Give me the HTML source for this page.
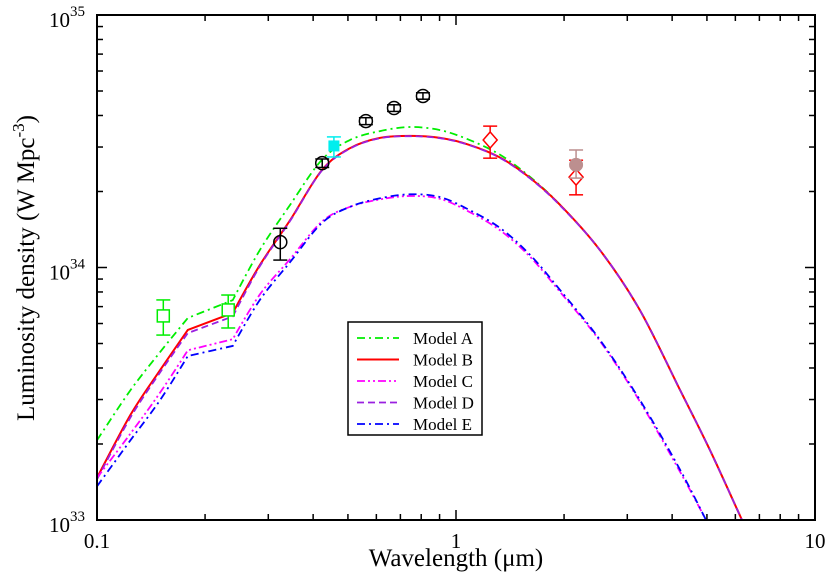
<!DOCTYPE html>
<html><head><meta charset="utf-8"><style>
html,body{margin:0;padding:0;background:#fff;}
svg{display:block;font-family:"Liberation Serif",serif;}
</style></head><body>
<svg id="chart" width="830" height="579" viewBox="0 0 830 579" xmlns="http://www.w3.org/2000/svg">
<g id="curves"></g>
<g id="points"></g>
<rect x="97" y="15" width="718" height="505" fill="none" stroke="#000" stroke-width="2"/>
<g id="ticks"></g>
<g id="labels" font-size="21" fill="#000"></g>
<text x="456" y="566" font-size="25" text-anchor="middle">Wavelength (μm)</text>
<text transform="translate(34,268) rotate(-90)" font-size="25" text-anchor="middle">Luminosity density (W Mpc<tspan dy="-10" font-size="17">-3</tspan><tspan dy="10">)</tspan></text>
<g>
<rect x="348" y="322" width="134" height="113" fill="#fff" stroke="#000" stroke-width="1.5"/>
<g id="legend-items" font-size="17"></g>
</g>
</svg>
<script>
const X0=97,X1=815,Y0=520,Y1=15;
function xs(l){return X0+(X1-X0)/2*Math.log10(l/0.1);}
function ys(v){return Y0-(Y0-Y1)/2*(Math.log10(v)-33);}
const NS="http://www.w3.org/2000/svg";
function mk(t,a,p){const e=document.createElementNS(NS,t);for(const k in a)e.setAttribute(k,a[k]);p.appendChild(e);return e;}

// wavelengths (micron)
const lamAB=[0.1,0.124,0.15,0.179,0.239,0.284,0.345,0.423,0.507,0.614,0.745,0.903,1.09,1.33,1.61,1.95,2.52,3.25,4.21,5.1,6.26];
const lamCE=[0.1,0.124,0.15,0.179,0.239,0.284,0.345,0.423,0.507,0.614,0.745,0.903,1.09,1.33,1.61,1.95,2.52,3.25,4.21,4.97];
// luminosity in units of 1e33 W Mpc^-3
const modelA=[2.07,3.27,4.63,6.31,7.43,11.7,17.7,26.7,32.0,34.7,36.0,35.0,32.0,27.9,22.8,17.7,11.7,6.79,3.27,1.89,1.0];
const modelB=[1.47,2.61,3.93,5.66,6.61,10.2,15.4,24.3,29.7,32.6,33.2,32.6,30.6,27.2,22.6,17.7,11.7,6.79,3.27,1.89,1.0];
const modelD=[1.45,2.55,3.85,5.5,6.4,10.1,15.3,24.2,29.6,32.5,33.1,32.5,30.5,27.1,22.5,17.6,11.7,6.79,3.27,1.89,1.0];
const modelC=[1.47,2.2,3.2,4.7,5.2,7.8,10.8,15.2,17.4,18.6,19.2,18.7,16.6,14.0,11.0,8.0,5.1,2.95,1.55,1.0];
const modelE=[1.36,2.07,2.99,4.46,4.89,7.43,10.5,15.0,17.4,18.8,19.5,19.0,16.9,14.3,11.2,8.14,5.16,2.99,1.58,1.0];
const kinkLam=[0.179,0.239];

const models=[
 {name:"Model A",lam:lamAB,v:modelA,c:"#00ee00",d:"8,4,2,4",w:1.8},
 {name:"Model B",lam:lamAB,v:modelB,c:"#ff0000",d:"",w:2},
 {name:"Model D",lam:lamAB,v:modelD,c:"#9a20e0",d:"7,4",w:1.8},
 {name:"Model C",lam:lamCE,v:modelC,c:"#ff00ff",d:"8,3,2,3,2,3",w:1.8},
 {name:"Model E",lam:lamCE,v:modelE,c:"#0000ff",d:"8,4,2,4",w:1.8}
];
function pathFor(lam,v){
 const P=lam.map((l,i)=>[xs(l),ys(v[i]*1e33)]);
 let d="M"+P[0][0].toFixed(1)+","+P[0][1].toFixed(1);
 for(let i=0;i<P.length-1;i++){
  const p0=P[Math.max(0,i-1)],p1=P[i],p2=P[i+1],p3=P[Math.min(P.length-1,i+2)];
  const k1=kinkLam.includes(lam[i]),k2=kinkLam.includes(lam[i+1]);
  const s=1/6;
  const c1=k1?p1:[p1[0]+(p2[0]-p0[0])*s,p1[1]+(p2[1]-p0[1])*s];
  const c2=k2?p2:[p2[0]-(p3[0]-p1[0])*s,p2[1]-(p3[1]-p1[1])*s];
  d+=` C${c1[0].toFixed(1)},${c1[1].toFixed(1)} ${c2[0].toFixed(1)},${c2[1].toFixed(1)} ${p2[0].toFixed(1)},${p2[1].toFixed(1)}`;
 }
 return d;
}
const cg=document.getElementById('curves');
const clip=mk('clipPath',{id:'pc'},cg);mk('rect',{x:X0,y:Y1,width:X1-X0,height:Y0-Y1},clip);
models.forEach(m=>{
 const p=mk('path',{d:pathFor(m.lam,m.v),fill:"none",stroke:m.c,"stroke-width":m.w,"stroke-dasharray":m.d,"clip-path":"url(#pc)"},cg);
 
 
});

// observations: wavelength, value, lo, hi (1e33)
const obsLam=[0.153,0.232,0.324,0.424,0.561,0.672,0.809,0.457,1.245,2.16,2.16];
const obsVal=[6.43,6.79,12.6,25.9,38.0,42.8,47.8,30.3,32.0,22.8,25.5];
const obsLo=[5.4,5.76,10.7,24.9,36.8,41.5,46.4,27.4,27.1,19.4,22.6];
const obsHi=[7.44,7.78,14.3,26.9,39.2,44.1,49.2,32.9,36.3,26.6,29.2];
const obsKind=["sq","sq","circ","circ","circ","circ","circ","fsq","dia","dia","fcirc"];
const obsCol=["#00ee00","#00ee00","#000","#000","#000","#000","#000","#00eeee","#ff0000","#ff0000","#bc8f8f"];
const pg=document.getElementById('points');
obsLam.forEach((l,i)=>{
 const x=xs(l),y=ys(obsVal[i]*1e33),yl=ys(obsLo[i]*1e33),yh=ys(obsHi[i]*1e33),c=obsCol[i];
 const g=mk('g',{},pg);
 
 
 mk('line',{x1:x,x2:x,y1:yl,y2:yh,stroke:c,"stroke-width":1.5},g);
 mk('line',{x1:x-7,x2:x+7,y1:yl,y2:yl,stroke:c,"stroke-width":1.5},g);
 mk('line',{x1:x-7,x2:x+7,y1:yh,y2:yh,stroke:c,"stroke-width":1.5},g);
 const k=obsKind[i];
 if(k==="sq")mk('rect',{x:x-6,y:y-6,width:12,height:12,fill:"#fff",stroke:c,"stroke-width":1.5},g);
 else if(k==="fsq")mk('rect',{x:x-5,y:y-5,width:10,height:10,fill:c,stroke:c},g);
 else if(k==="circ")mk('circle',{cx:x,cy:y,r:6.5,fill:"none",stroke:c,"stroke-width":1.5},g);
 else if(k==="fcirc")mk('circle',{cx:x,cy:y,r:6.5,fill:c,stroke:c},g);
 else mk('polygon',{points:`${x},${y-8} ${x+7},${y} ${x},${y+8} ${x-7},${y}`,fill:"#fff",stroke:c,"stroke-width":1.5},g);
});

// ticks
const tg=document.getElementById('ticks');
for(let d=0;d<2;d++)for(let m=1;m<=9;m++){
 const l=0.1*Math.pow(10,d)*m;const x=xs(l);const L=m===1?10:6;
 mk('line',{x1:x,x2:x,y1:Y0,y2:Y0-L,stroke:"#000","stroke-width":1.5},tg);
 mk('line',{x1:x,x2:x,y1:Y1,y2:Y1+L,stroke:"#000","stroke-width":1.5},tg);
}
for(let d=33;d<35;d++)for(let m=1;m<=9;m++){
 const y=ys(m*Math.pow(10,d));const L=m===1?10:6;
 mk('line',{x1:X0,x2:X0+L,y1:y,y2:y,stroke:"#000","stroke-width":1.5},tg);
 mk('line',{x1:X1,x2:X1-L,y1:y,y2:y,stroke:"#000","stroke-width":1.5},tg);
}
const xTicks=[0.1,1,10];const xTickLabels=["0.1","1","10"];
const yTicks=[33,34,35];
const lg=document.getElementById('labels');
xTicks.forEach((t,i)=>{const e=mk('text',{x:xs(t),y:548,"text-anchor":"middle"},lg);e.textContent=xTickLabels[i];
 });
yTicks.forEach(t=>{const y=ys(Math.pow(10,t));const e=mk('text',{x:49,y:y+12},lg);
 e.innerHTML='10<tspan dy="-11" font-size="15">'+t+'</tspan>';
 });

// legend
const legOrder=["Model A","Model B","Model C","Model D","Model E"];
const lig=document.getElementById('legend-items');
legOrder.forEach((n,i)=>{
 const m=models.find(q=>q.name===n);const y=338+i*21.5;
 const g=mk('g',{},lig);
 
 
 mk('line',{x1:357,x2:399,y1:y,y2:y,stroke:m.c,"stroke-width":m.w,"stroke-dasharray":m.d},g);
 const t=mk('text',{x:413,y:y+6},g);t.textContent=n;
});
</script>
</body></html>
